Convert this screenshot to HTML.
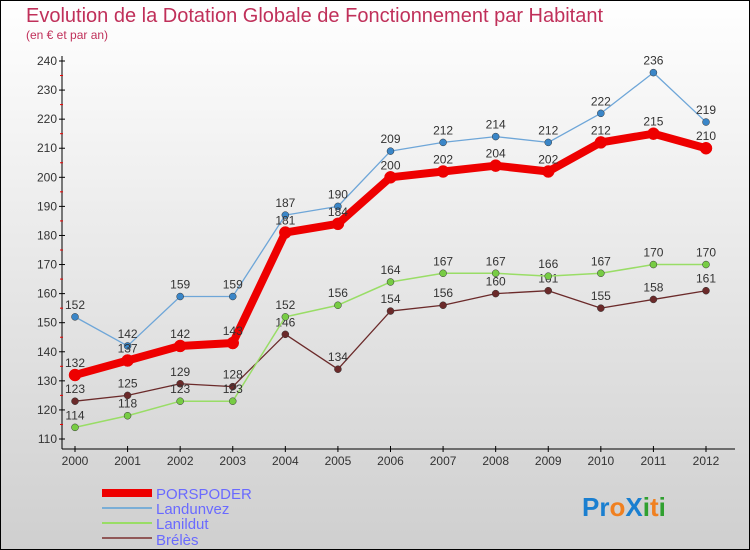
<!DOCTYPE html>
<html><head><meta charset="utf-8"><style>
body{margin:0;width:750px;height:550px;overflow:hidden;font-family:"Liberation Sans",sans-serif}
svg{display:block}
</style></head><body>
<svg id="c" width="750" height="550" xmlns="http://www.w3.org/2000/svg">
<defs><linearGradient id="bg" x1="0" y1="0" x2="0" y2="1"><stop offset="0" stop-color="#ffffff"/><stop offset="1" stop-color="#cfcfcf"/></linearGradient></defs>
<rect x="0.5" y="0.5" width="749" height="549" fill="url(#bg)" stroke="#000"/>
<text x="26" y="22" font-size="20" fill="#c0305a">Evolution de la Dotation Globale de Fonctionnement par Habitant</text>
<text x="26" y="39" font-size="12" fill="#c0305a">(en € et par an)</text>
<g id="axes"></g><g id="series"></g>
<g>
<rect x="102" y="489" width="50" height="8" fill="#e00"/>
<text x="156" y="499" font-size="15" fill="#6a6aff">PORSPODER</text>
<line x1="102" y1="508" x2="152" y2="508" stroke="#7aaed6" stroke-width="2"/>
<text x="156" y="514" font-size="15" fill="#6a6aff">Landunvez</text>
<line x1="102" y1="523" x2="152" y2="523" stroke="#99dd66" stroke-width="2"/>
<text x="156" y="529" font-size="15" fill="#6a6aff">Lanildut</text>
<line x1="102" y1="538" x2="152" y2="538" stroke="#905858" stroke-width="2"/>
<text x="156" y="545" font-size="15" fill="#6a6aff">Brélès</text>
</g>
<text x="582" y="516" font-size="26" font-weight="bold"><tspan fill="#1a7fd0">Pr</tspan><tspan fill="#f08020">o</tspan><tspan fill="#1a7fd0">X</tspan><tspan fill="#30a030">i</tspan><tspan fill="#f08020">t</tspan><tspan fill="#30a030">i</tspan></text>
</svg>
<script>
const years=[2000,2001,2002,2003,2004,2005,2006,2007,2008,2009,2010,2011,2012];
const porspoder=[132,137,142,143,181,184,200,202,204,202,212,215,210];
const landunvez=[152,142,159,159,187,190,209,212,214,212,222,236,219];
const lanildut=[114,118,123,123,152,156,164,167,167,166,167,170,170];
const breles=[123,125,129,128,146,134,154,156,160,161,155,158,161];
const yTicks=[110,120,130,140,150,160,170,180,190,200,210,220,230,240];
const NS="http://www.w3.org/2000/svg";
function x(i){return 75+i*(706-75)/(years.length-1);}
function y(v){return 439-(v-110)*(439-61)/130;}
function mk(tag,attrs,parent){const e=document.createElementNS(NS,tag);for(const k in attrs)e.setAttribute(k,attrs[k]);parent.appendChild(e);return e;}
const ax=document.getElementById('axes');
let l=mk('line',{x1:62,y1:56,x2:62,y2:449,stroke:'#000'},ax);


l=mk('line',{x1:62,y1:449,x2:735,y2:449,stroke:'#000'},ax);


yTicks.forEach(v=>{
  mk('line',{x1:59,y1:y(v),x2:65,y2:y(v),stroke:'#000'},ax);
  if(v<240)mk('line',{x1:60,y1:y(v+5),x2:63,y2:y(v+5),stroke:'#e00'},ax);
  const t=mk('text',{x:57,y:y(v)+4,'font-size':12,fill:'#333','text-anchor':'end'},ax);t.textContent=v;
  
  
});
years.forEach((yr,i)=>{
  mk('line',{x1:x(i),y1:446,x2:x(i),y2:452,stroke:'#000'},ax);
  const t=mk('text',{x:x(i),y:465,'font-size':12,fill:'#333','text-anchor':'middle'},ax);t.textContent=yr;
  
  
});
const sg=document.getElementById('series');
function draw(data,color,w,r,dot,name){
  const g=mk('g',{},sg);
  
  
  const p=mk('polyline',{points:data.map((v,i)=>x(i)+','+y(v)).join(' '),fill:'none',stroke:color,'stroke-width':w,'stroke-linejoin':'round'},g);
  
  
  data.forEach((v,i)=>{
    const c=mk('circle',{cx:x(i),cy:y(v),r:r,fill:dot,stroke:color==='#e00'?'#e00':'#333','stroke-width':0.5},g);
    
    
    const t=mk('text',{x:x(i),y:y(v)-8,'font-size':12,fill:'#333','text-anchor':'middle'},g);t.textContent=v;
    
    
  });
}
draw(breles,'#6b2a2a',1.3,3.5,'#6b2a2a','breles');
draw(lanildut,'#99dd66',1.5,3.5,'#77cc44','lanildut');
draw(landunvez,'#6ea6d8',1.3,3.5,'#3a86c8','landunvez');
draw(porspoder,'#e00',8,6,'#e00','porspoder');
</script>
</body></html>
